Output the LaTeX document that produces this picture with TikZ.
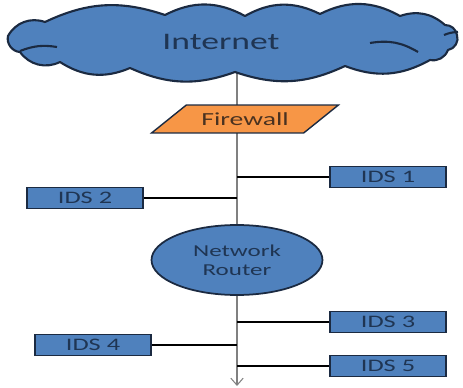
\documentclass[tikz,border=0pt]{standalone}
\usepackage{fontspec}
\setmainfont[FakeStretch=1.5]{Carlito}
\usepackage{tikz}
\usetikzlibrary{arrows.meta,positioning,shapes.geometric,backgrounds}
\definecolor{boxblue}{HTML}{4F81BD}
\definecolor{boxedge}{HTML}{1B2A41}
\definecolor{textnavy}{HTML}{1F3553}
\definecolor{fwfill}{HTML}{F79646}
\definecolor{fwtext}{HTML}{4A3220}
\tikzset{%
	cloudline/.style  = {draw=boxedge, line width=1.2pt, line join=round},
	cloudtext/.style  = {text=textnavy, font=\fontsize{13.5}{15}\selectfont},
	firewallbox/.style= {draw=boxedge, fill=fwfill, line width=0.8pt, trapezium, trapezium left angle=40, trapezium right angle=140, trapezium stretches=true, minimum width=3.75cm, minimum height=0.56cm, text=fwtext, font=\fontsize{10.5}{12}\selectfont},
	routernode/.style = {draw=boxedge, fill=boxblue, line width=1pt, ellipse, minimum width=3.42cm, minimum height=1.4cm, align=center, text=textnavy, font=\fontsize{9.5}{11}\selectfont},
	idsbox/.style     = {draw=boxedge, fill=boxblue, line width=1pt, rectangle, minimum width=2.32cm, minimum height=0.42cm, inner sep=0pt, text=textnavy, font=\fontsize{10}{12}\selectfont},
	bus/.style        = {draw=gray, line width=0.6pt, -{Straight Barb[length=4pt,width=7pt]}},
	tap/.style        = {draw=black, line width=0.6pt},
}
\begin{document}
\begin{tikzpicture}[x=0.02cm, y=-0.02cm]
	\useasboundingbox (0,0) rectangle (463,388);
	% cloud outline
	\filldraw[cloudline, fill=boxblue] (8,36) to[bend left=40] (45,22) to[bend left=22] (165,15)
		to[bend left=28] (245,16) to[bend left=28] (320,14) to[bend left=28] (400,16)
		to[bend left=30] (445,25) to[bend left=40] (457,35) to[bend left=50] (448,50)
		to[bend left=40] (430,60) to[bend left=25] (345,66) to[bend left=22] (235,72)
		to[bend left=22] (130,68) to[bend left=28] (60,62) to[bend left=40] (20,52)
		to[bend left=50] cycle;
	\draw[cloudline] (20,51) to[bend left=15] (57,47);
	\draw[cloudline] (370,43) to[bend left=20] (418,52);
	\draw[cloudline] (444,35) to[bend left=10] (458,32);
	\node[cloudtext] (internet) at (221,42) {Internet};
	\coordinate (bustop) at (237,71);
	\node[firewallbox] (firewall) at (245,119) {Firewall};
	\node[routernode] (router) at (237,260) {Network\\Router};
	\node[idsbox] (ids1) at (388,177) {IDS 1};
	\node[idsbox] (ids2) at (85,198) {IDS 2};
	\node[idsbox] (ids3) at (388,322) {IDS 3};
	\node[idsbox] (ids4) at (93,345) {IDS 4};
	\node[idsbox] (ids5) at (388,366) {IDS 5};
	\coordinate (busend) at (237,386);
	
	\begin{pgfonlayer}{background}
		\draw[bus] (bustop) -- (busend);
	\end{pgfonlayer}
	\draw[tap] (ids1.west) -- (ids1.west -| busend);
	\draw[tap] (ids2.east) -- (ids2.east -| busend);
	\draw[tap] (ids3.west) -- (ids3.west -| busend);
	\draw[tap] (ids4.east) -- (ids4.east -| busend);
	\draw[tap] (ids5.west) -- (ids5.west -| busend);
\end{tikzpicture}
\end{document}
